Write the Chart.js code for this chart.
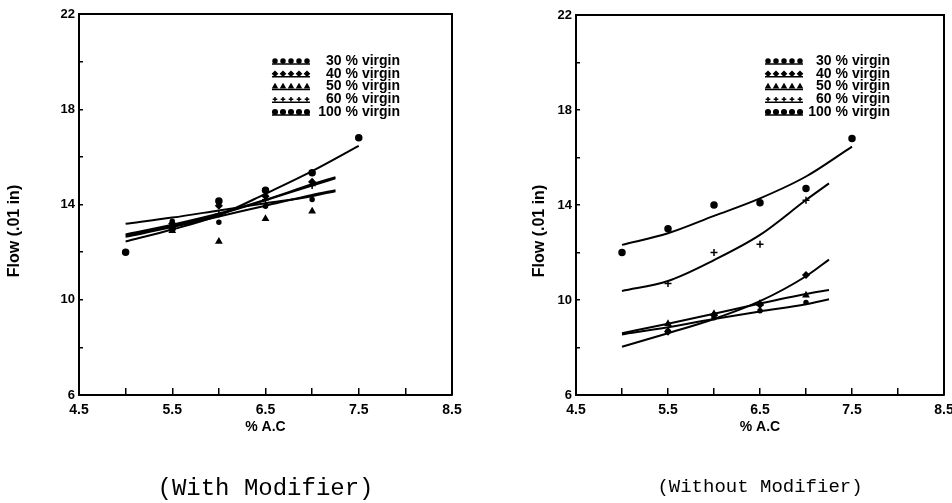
<!DOCTYPE html>
<html>
<head>
<meta charset="utf-8">
<script src="https://cdn.jsdelivr.net/npm/chart.js@4.4.1/dist/chart.umd.min.js"></script>
<style>
  html, body { margin: 0; padding: 0; background: #fff; }
  #wrap { position: relative; width: 952px; height: 503px; overflow: hidden; }
  canvas { position: absolute; top: 0; }
  #left { left: 0; }
  #right { left: 476px; }
</style>
</head>
<body>
<div id="wrap">
  <canvas id="left" width="476" height="503"></canvas>
  <canvas id="right" width="476" height="503"></canvas>
</div>
<script>
// values
const xTicks = [4.5, 5.5, 6.5, 7.5, 8.5];
const yTicks = [6, 10, 14, 18, 22];
const seriesNames = ["30", "40", "50", "60", "100"];

// x positions of fitted curves and of measured points
const fitX = [5.0, 5.5, 6.0, 6.5, 7.0, 7.25];
const fitX100 = [5.0, 5.5, 6.0, 6.5, 7.0, 7.5];
const ptX = [5.5, 6.0, 6.5, 7.0];
const ptX100 = [5.0, 5.5, 6.0, 6.5, 7.0, 7.5];

// (With Modifier) - fitted curves
const withFit30 = [13.19, 13.45, 13.75, 14.05, 14.35, 14.56];
const withFit40 = [12.74, 13.15, 13.62, 14.2, 14.85, 15.15];
const withFit50 = [12.64, 13.05, 13.5, 13.95, 14.4, 14.6];
const withFit60 = [12.7, 13.1, 13.58, 14.18, 14.8, 15.1];
const withFit100 = [12.45, 12.95, 13.55, 14.45, 15.4, 16.46];
// (With Modifier) - points
const withPts30 = [13.3, 13.25, 13.93, 14.21];
const withPts40 = [13.2, 13.95, 14.35, 14.95];
const withPts50 = [12.9, 12.45, 13.4, 13.72];
const withPts60 = [13.1, 13.6, 14.2, 14.8];
const withPts100 = [12.0, 13.0, 14.15, 14.6, 15.33, 16.8];

// (Without Modifier) - fitted curves
const woFit30 = [8.55, 8.85, 9.2, 9.52, 9.82, 10.03];
const woFit40 = [8.03, 8.6, 9.2, 9.95, 11.0, 11.7];
const woFit50 = [8.6, 9.0, 9.42, 9.85, 10.25, 10.42];
const woFit60 = [10.38, 10.8, 11.68, 12.74, 14.21, 14.91];
const woFit100 = [12.32, 12.81, 13.54, 14.28, 15.2, 16.46];
// (Without Modifier) - points
const woPts30 = [8.7, 9.25, 9.55, 9.9];
const woPts40 = [8.67, 9.37, 9.8, 11.05];
const woPts50 = [9.0, 9.42, 9.85, 10.2];
const woPts60 = [10.7, 12.0, 12.35, 14.2];
const woPts100 = [12.0, 13.0, 14.0, 14.1, 14.7, 16.8];

const markStyle = {
  "30": { pointStyle: "circle", radius: 2 },
  "40": { pointStyle: "rectRot", radius: 3 },
  "50": { pointStyle: "triangle", radius: 3 },
  "60": { pointStyle: "cross", radius: 3.5 },
  "100": { pointStyle: "circle", radius: 3 },
};

const SANS = "'Liberation Sans', Arial, Helvetica, sans-serif";
const MONO = "'Liberation Mono', 'Courier New', monospace";

function pairs(xs, ys) {
  return ys.map((y, i) => ({ x: xs[i], y: y }));
}

function buildDatasets(fits, pts) {
  const ds = [];
  seriesNames.forEach((n, i) => {
    const fx = n === "100" ? fitX100 : fitX;
    const px = n === "100" ? ptX100 : ptX;
    ds.push({
      label: n + " % virgin",
      data: pairs(fx, fits[i]),
      showLine: true,
      borderColor: "#000",
      borderWidth: 2,
      pointRadius: 0,
      cubicInterpolationMode: "monotone",
    });
    ds.push({
      label: n + " % virgin (data)",
      data: pairs(px, pts[i]),
      showLine: false,
      pointStyle: markStyle[n].pointStyle,
      pointRadius: markStyle[n].radius,
      backgroundColor: "#000",
      borderColor: "#000",
      borderWidth: 1.5,
    });
  });
  return ds;
}

// frame, y title and the in-plot legend
const panelDecor = {
  id: "panelDecor",
  afterDraw(chart, args, opts) {
    const { ctx, chartArea: a } = chart;
    ctx.save();
    ctx.strokeStyle = "#000";
    ctx.fillStyle = "#000";
    ctx.lineWidth = 2;
    ctx.beginPath();
    ctx.moveTo(a.left, a.top);
    ctx.lineTo(a.right, a.top);
    ctx.lineTo(a.right, a.bottom);
    ctx.stroke();

    ctx.save();
    ctx.font = "bold 16px " + SANS;
    ctx.translate(opts.yTitleX, opts.yTitleY);
    ctx.rotate(-Math.PI / 2);
    ctx.textAlign = "center";
    ctx.textBaseline = "middle";
    ctx.fillText(opts.yTitle, 0, 0);
    ctx.restore();

    const drawPoint = Chart.helpers && Chart.helpers.drawPoint;
    ctx.font = "bold 14px " + SANS;
    ctx.textBaseline = "middle";
    ctx.textAlign = "right";
    seriesNames.forEach((n, i) => {
      const y = opts.legendY + i * 12.75;
      ctx.lineWidth = 1.5;
      ctx.beginPath();
      ctx.moveTo(opts.legendX, y + 3);
      ctx.lineTo(opts.legendX + 38, y + 3);
      ctx.stroke();
      for (let k = 0; k < 5; k++) {
        const px = opts.legendX + 3 + k * 8;
        if (drawPoint) {
          drawPoint(ctx, { pointStyle: markStyle[n].pointStyle, radius: Math.min(markStyle[n].radius, 2.3), rotation: 0, borderWidth: 1.2 }, px, y);
        } else {
          ctx.beginPath();
          ctx.arc(px, y, 2, 0, Math.PI * 2);
          ctx.fill();
        }
      }
      ctx.fillText(n + " % virgin", opts.legendEnd, y);
    });
    ctx.restore();
  },
};

function makePanel(id, fits, pts, look) {
  return new Chart(document.getElementById(id), {
    type: "scatter",
    data: { datasets: buildDatasets(fits, pts) },
    plugins: [panelDecor],
    options: {
      responsive: false,
      animation: false,
      devicePixelRatio: 1,
      layout: { padding: look.padding },
      plugins: {
        legend: { display: false },
        tooltip: { enabled: false },
        title: {
          display: true,
          text: look.caption,
          position: "bottom",
          fullSize: false,
          color: "#000",
          font: { family: MONO, size: look.captionSize, weight: "normal", lineHeight: 1.2 },
          padding: 0,
        },
        panelDecor: {
          yTitle: "Flow (.01 in)",
          yTitleX: look.yTitleX,
          yTitleY: 231,
          legendX: look.legendX,
          legendEnd: look.legendEnd,
          legendY: 61,
        },
      },
      scales: {
        x: {
          type: "linear",
          min: 4.5,
          max: 8.5,
          border: { display: true, color: "#000", width: 2 },
          grid: { drawOnChartArea: false, drawTicks: true, tickLength: -7, color: "#000", lineWidth: 1.5 },
          ticks: {
            stepSize: 0.5,
            padding: 13.6,
            maxRotation: 0,
            autoSkip: false,
            color: "#000",
            font: { family: SANS, size: 14, weight: "bold" },
            callback: (v) => (xTicks.includes(v) ? v.toFixed(1) : ""),
          },
          title: {
            display: true,
            text: "% A.C",
            color: "#000",
            font: { family: SANS, size: 14, weight: "bold", lineHeight: 1.2 },
            padding: { top: 0, bottom: look.xTitlePad },
          },
          afterFit(s) {
            s.height = look.xAxisHeight;
            s.paddingLeft = 0;
            s.paddingRight = 0;
          },
        },
        y: {
          type: "linear",
          min: 6,
          max: 22,
          border: { display: true, color: "#000", width: 2 },
          grid: { drawOnChartArea: false, drawTicks: true, tickLength: -4, color: "#000", lineWidth: 1.5 },
          ticks: {
            stepSize: 2,
            padding: 8,
            autoSkip: false,
            color: "#000",
            font: { family: SANS, size: 13, weight: "bold" },
            callback: (v) => (yTicks.includes(v) ? String(v) : ""),
          },
          afterFit(s) {
            s.width = look.yAxisWidth;
            s.paddingTop = 0;
            s.paddingBottom = 0;
          },
        },
      },
    },
  });
}

makePanel(
  "left",
  [withFit30, withFit40, withFit50, withFit60, withFit100],
  [withPts30, withPts40, withPts50, withPts60, withPts100],
  {
    caption: "(With Modifier)",
    captionSize: 24,
    padding: { left: 0, right: 24, top: 14, bottom: 0 },
    xAxisHeight: 79.2,
    xTitlePad: 39,
    yAxisWidth: 79,
    yTitleX: 15,
    legendX: 272,
    legendEnd: 400,
  }
);

makePanel(
  "right",
  [woFit30, woFit40, woFit50, woFit60, woFit100],
  [woPts30, woPts40, woPts50, woPts60, woPts100],
  {
    caption: "(Without Modifier)",
    captionSize: 19,
    padding: { left: 0, right: 8, top: 15, bottom: 5 },
    xAxisHeight: 80.2,
    xTitlePad: 39.8,
    yAxisWidth: 100,
    yTitleX: 64,
    legendX: 289,
    legendEnd: 414,
  }
);
</script>
</body>
</html>
